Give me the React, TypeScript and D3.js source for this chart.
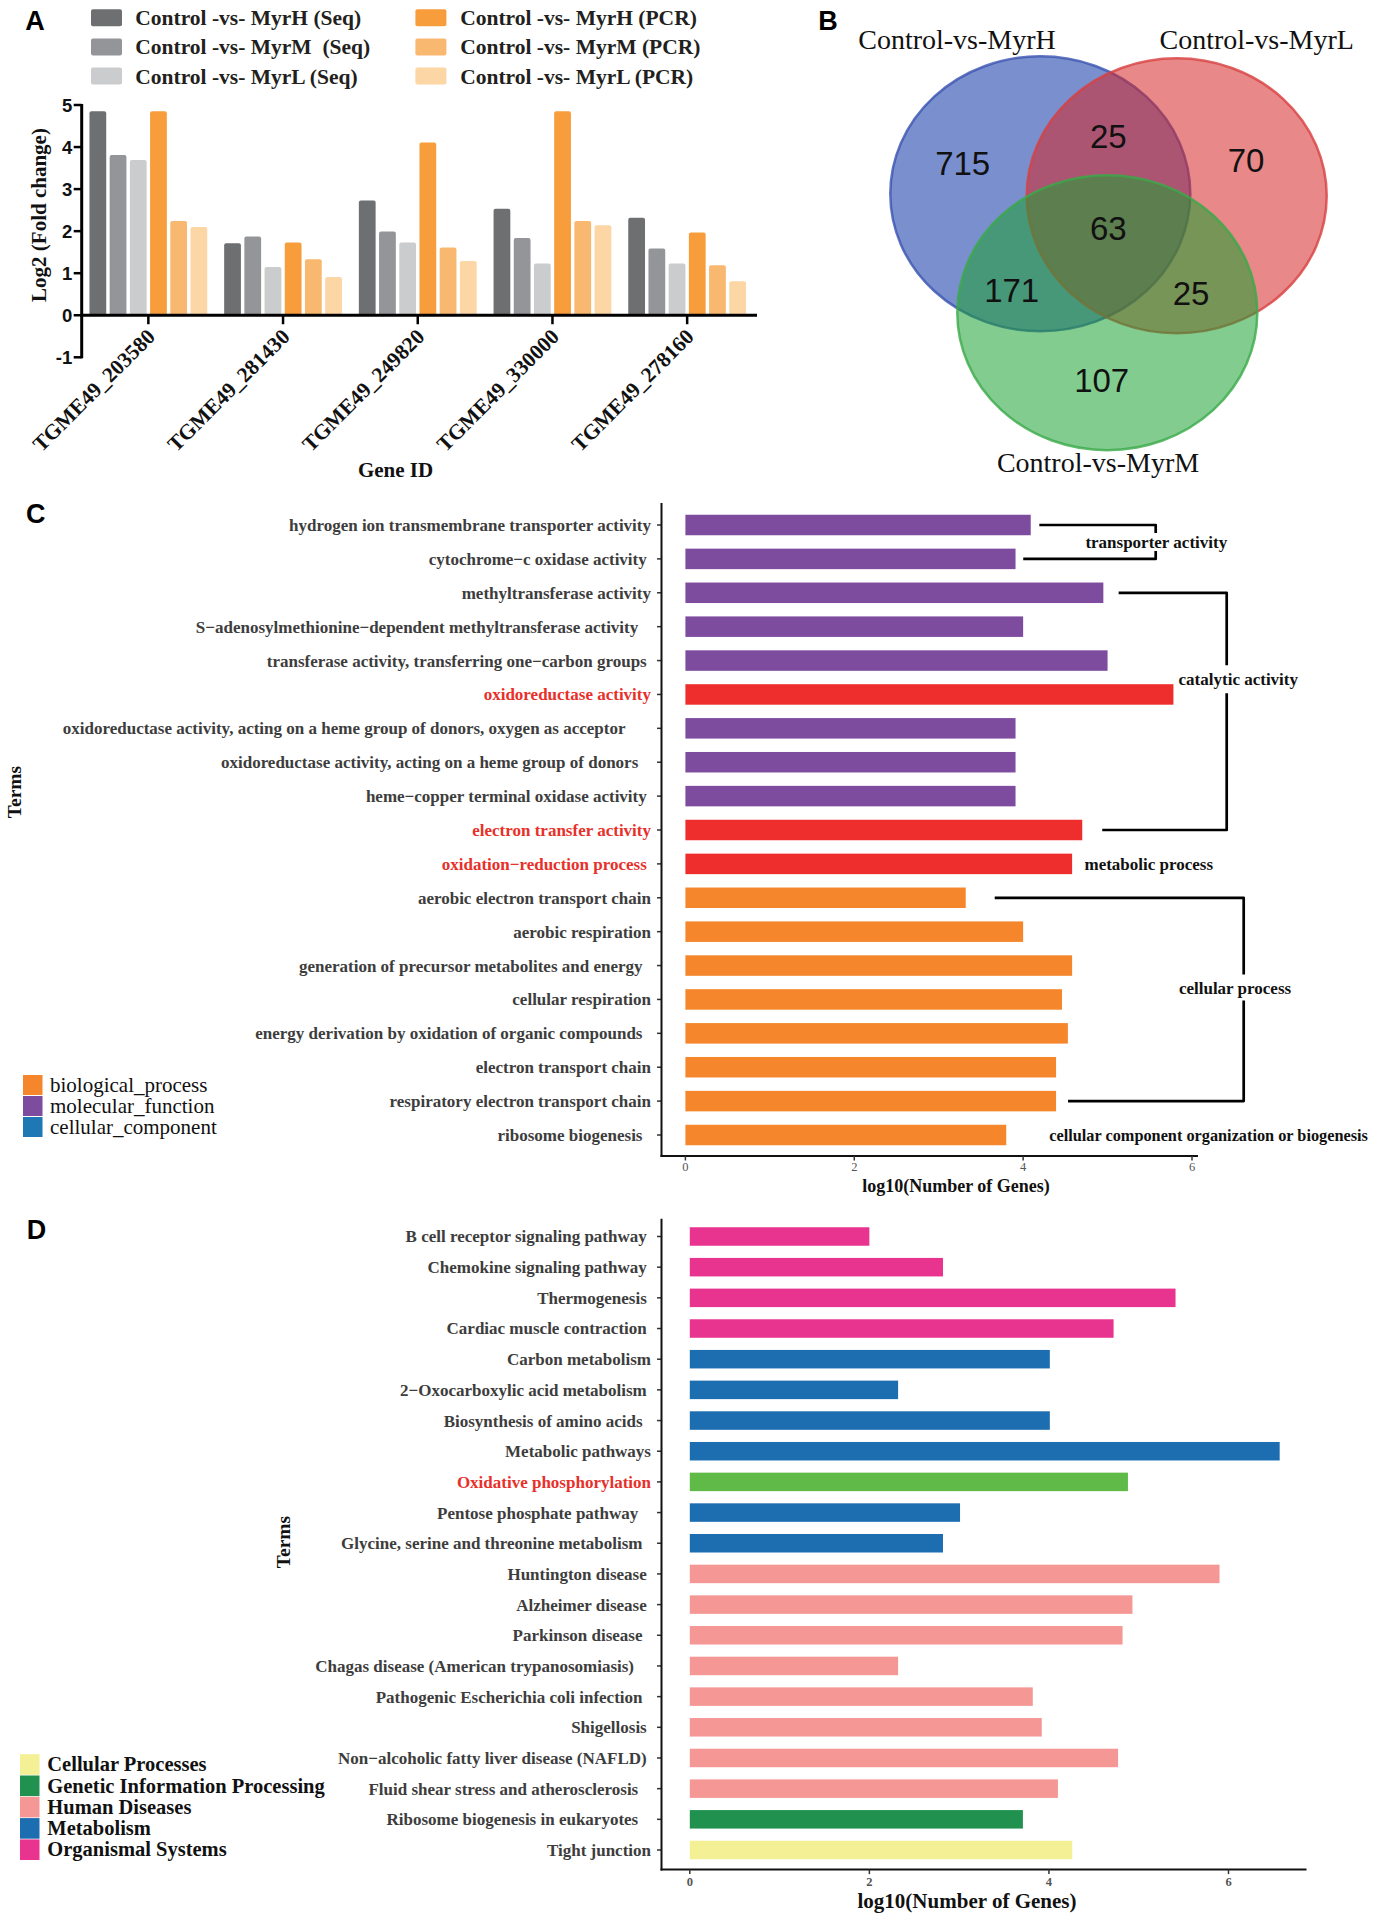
import React from 'react';
import * as d3 from 'd3';

const SERIF = '"Liberation Serif", "Times New Roman", serif';
const SANS = '"Liberation Sans", Arial, sans-serif';
const NB = '\u00A0';

// ---------------- Panel A data ----------------
const genes = ['TGME49_203580', 'TGME49_281430', 'TGME49_249820', 'TGME49_330000', 'TGME49_278160'];
const seriesNamesA = [
  'Control -vs- MyrH (Seq)',
  `Control -vs- MyrM ${NB}(Seq)`,
  'Control -vs- MyrL (Seq)',
  'Control -vs- MyrH (PCR)',
  'Control -vs- MyrM (PCR)',
  'Control -vs- MyrL (PCR)',
];
const seqMyrH = [4.85, 1.71, 2.73, 2.53, 2.32];
const seqMyrM = [3.81, 1.87, 1.99, 1.84, 1.59];
const seqMyrL = [3.69, 1.15, 1.73, 1.23, 1.23];
const pcrMyrH = [4.85, 1.73, 4.11, 4.85, 1.97];
const pcrMyrM = [2.24, 1.33, 1.61, 2.24, 1.19];
const pcrMyrL = [2.10, 0.91, 1.29, 2.14, 0.81];
const yTicksA = [-1, 0, 1, 2, 3, 4, 5];

// ---------------- Panel B data ----------------
const vennSetNames = ['Control-vs-MyrH', 'Control-vs-MyrL', 'Control-vs-MyrM'];
const vennRegionKeys = ['H', 'HL', 'L', 'HLM', 'HM', 'LM', 'M'];
const vennCounts = [715, 25, 70, 63, 171, 25, 107];

// ---------------- Panel C data ----------------
const goTerms = [
  'hydrogen ion transmembrane transporter activity',
  'cytochrome\u2212c oxidase activity' + NB,
  'methyltransferase activity',
  'S\u2212adenosylmethionine\u2212dependent methyltransferase activity' + NB + NB + NB,
  'transferase activity, transferring one\u2212carbon groups' + NB,
  'oxidoreductase activity',
  'oxidoreductase activity, acting on a heme group of donors, oxygen as acceptor' + NB.repeat(6),
  'oxidoreductase activity, acting on a heme group of donors' + NB + NB + NB,
  'heme\u2212copper terminal oxidase activity' + NB,
  'electron transfer activity',
  'oxidation\u2212reduction process' + NB,
  'aerobic electron transport chain',
  'aerobic respiration',
  'generation of precursor metabolites and energy' + NB + NB,
  'cellular respiration',
  'energy derivation by oxidation of organic compounds' + NB + NB,
  'electron transport chain',
  'respiratory electron transport chain',
  'ribosome biogenesis' + NB + NB,
];
const goValues = [4.09, 3.91, 4.95, 4.00, 5.00, 5.78, 3.91, 3.91, 3.91, 4.70, 4.58, 3.32, 4.00, 4.58, 4.46, 4.53, 4.39, 4.39, 3.80];
const goOntology = ['MF', 'MF', 'MF', 'MF', 'MF', 'MF', 'MF', 'MF', 'MF', 'MF', 'BP', 'BP', 'BP', 'BP', 'BP', 'BP', 'BP', 'BP', 'BP'];
const goHighlight = [false, false, false, false, false, true, false, false, false, true, true, false, false, false, false, false, false, false, false];
const goGroupNames = ['transporter activity', 'catalytic activity', 'metabolic process', 'cellular process', 'cellular component organization or biogenesis'];
const goGroupFrom = [0, 2, 10, 11, 18];
const goGroupTo = [1, 9, 10, 17, 18];
const goLegendNames = ['biological_process', 'molecular_function', 'cellular_component'];
const xTicksC = [0, 2, 4, 6];

// ---------------- Panel D data ----------------
const keggTerms = [
  'B cell receptor signaling pathway' + NB,
  'Chemokine signaling pathway' + NB,
  'Thermogenesis' + NB,
  'Cardiac muscle contraction' + NB,
  'Carbon metabolism',
  '2\u2212Oxocarboxylic acid metabolism' + NB,
  'Biosynthesis of amino acids' + NB + NB,
  'Metabolic pathways',
  'Oxidative phosphorylation',
  'Pentose phosphate pathway' + NB + NB + NB,
  'Glycine, serine and threonine metabolism' + NB + NB,
  'Huntington disease' + NB,
  'Alzheimer disease' + NB,
  'Parkinson disease' + NB + NB,
  'Chagas disease (American trypanosomiasis)' + NB.repeat(4),
  'Pathogenic Escherichia coli infection' + NB + NB,
  'Shigellosis' + NB,
  'Non\u2212alcoholic fatty liver disease (NAFLD)' + NB,
  'Fluid shear stress and atherosclerosis' + NB + NB + NB,
  'Ribosome biogenesis in eukaryotes' + NB + NB + NB,
  'Tight junction',
];
const keggValues = [2.00, 2.82, 5.41, 4.72, 4.01, 2.32, 4.01, 6.57, 4.88, 3.01, 2.82, 5.90, 4.93, 4.82, 2.32, 3.82, 3.92, 4.77, 4.10, 3.71, 4.26];
const keggClass = ['OS', 'OS', 'OS', 'OS', 'M', 'M', 'M', 'M', 'M', 'M', 'M', 'HD', 'HD', 'HD', 'HD', 'HD', 'HD', 'HD', 'HD', 'GIP', 'CP'];
const keggHighlight = [false, false, false, false, false, false, false, false, true, false, false, false, false, false, false, false, false, false, false, false, false];
const keggLegendKeys = ['CP', 'GIP', 'HD', 'M', 'OS'];
const keggLegendNames = ['Cellular Processes', 'Genetic Information Processing', 'Human Diseases', 'Metabolism', 'Organismal Systems'];
const xTicksD = [0, 2, 4, 6];

// ---------------- styles ----------------
const colorsA = ['#6d6f71', '#939598', '#cbcccd', '#f79d3c', '#f9b86f', '#fcd6a4'];
const goColors: Record<string, string> = { BP: '#f5862b', MF: '#7e4c9e', CC: '#1f78b4', HL: '#ee2d2d' };
const keggColors: Record<string, string> = { CP: '#f3f095', GIP: '#219150', HD: '#f49795', M: '#1d6db1', OS: '#e8338f', HL: '#5fba47' };
const LABEL_GRAY = '#3d3d3d';
const LABEL_RED = '#e8302a';

export default function App() {
  // ===== Panel A =====
  const seriesA = [seqMyrH, seqMyrM, seqMyrL, pcrMyrH, pcrMyrM, pcrMyrL];
  const xA = d3.scaleBand<string>().domain(genes).range([81, 754.5]).paddingInner(0.1).paddingOuter(0.05);
  const xAi = d3.scaleBand<number>().domain(d3.range(seriesA.length)).range([0, xA.bandwidth()]).paddingInner(0.17).paddingOuter(0.085);
  const yA = d3.scaleLinear().domain([-1, 5]).range([357.3, 105]);
  const axisXA = 81.7;

  // ===== Panel B =====
  const ell = [
    { cx: 1040.3, cy: 193.8, fill: '#0d33a6', op: 0.55, stroke: '#3a52b0' },
    { cx: 1176.7, cy: 195.8, fill: '#d52727', op: 0.55, stroke: '#d84040' },
    { cx: 1107.3, cy: 312.7, fill: '#19a030', op: 0.54, stroke: '#3aaa48' },
  ];
  const vennLabelPos: Record<string, [number, number]> = {
    H: [962.7, 163], HL: [1108.3, 136], L: [1246, 160], HLM: [1108.3, 228], HM: [1011.7, 290], LM: [1191, 293], M: [1101.7, 380],
  };
  const vennNamePos: [number, number][] = [[957, 49], [1256.7, 49], [1098, 472]];

  // ===== Panel C =====
  const xC = d3.scaleLinear().domain([0, 6]).range([685.4, 1192]);
  const yC = d3.scalePoint<number>().domain(d3.range(goTerms.length)).range([525, 1135]);
  const stepC = yC.step();
  const barHC = 20.5;
  const axisCX = 661.5, axisCTop = 503, axisCBottom = 1156, axisCRight = 1198;
  const bracketC: Record<string, any> = {
    'transporter activity': { vx: 1155.7, topGap: 8.6, botGap: 7.7, labelRow: 0.5, labelX: 1156.3, gap: 9 },
    'catalytic activity': { vx: 1226.7, topGap: 15.3, botGap: 20, labelRow: 4.55, labelX: 1238.3, gap: 14 },
    'metabolic process': { startGap: 12.4, size: 17 },
    'cellular process': { vx: 1243.7, topGap: 29, botGap: 12, labelRow: 13.65, labelX: 1235, gap: 13 },
    'cellular component organization or biogenesis': { startGap: 43, size: 16.3 },
  };

  // ===== Panel D =====
  const xD = d3.scaleLinear().domain([0, 6]).range([689.8, 1228.5]);
  const yD = d3.scalePoint<number>().domain(d3.range(keggTerms.length)).range([1236.5, 1850]);
  const barHD = 18.5;
  const axisDX = 661.5, axisDTop = 1218.7, axisDBottom = 1869.6, axisDRight = 1306.5;

  const labelEndX = 651;

  return (
    <svg width={1389} height={1914} viewBox="0 0 1389 1914" style={{ position: 'absolute', left: 0, top: 0, background: '#fff' }}>
      <rect x={0} y={0} width={1389} height={1914} fill="#fff" />

      {/* ================= Panel A ================= */}
      <text x={35} y={29.5} fontFamily={SANS} fontWeight="bold" fontSize={27} textAnchor="middle">A</text>
      {seriesNamesA.map((name, i) => {
        const col = i < 3 ? 0 : 1;
        const row = i % 3;
        const sx = col === 0 ? 91 : 415.4;
        const tx = col === 0 ? 135.3 : 460.2;
        const cy = 17.7 + row * 29.2;
        return (
          <g key={name}>
            <rect x={sx} y={cy - 8.5} width={31} height={17} rx={2} fill={colorsA[i]} />
            <text x={tx} y={cy} dy="0.35em" fontFamily={SERIF} fontWeight="bold" fontSize={21.5} fill="#231f20" style={{ whiteSpace: 'pre' }}>{name}</text>
          </g>
        );
      })}
      {genes.map((g, gi) => (
        <g key={g}>
          {seriesA.map((vals, si) => (
            <rect key={si} x={(xA(g) as number) + (xAi(si) as number)} y={yA(vals[gi])} width={xAi.bandwidth()} height={yA(0) - yA(vals[gi])} rx={2} fill={colorsA[si]} />
          ))}
        </g>
      ))}
      {/* axes A */}
      <line x1={axisXA} x2={axisXA} y1={yA(5) - 1} y2={yA(-1) + 1} stroke="#000" strokeWidth={3} />
      <line x1={axisXA - 1.5} x2={757} y1={yA(0)} y2={yA(0)} stroke="#000" strokeWidth={3} />
      {yTicksA.map(t => (
        <g key={t}>
          <line x1={axisXA - 8} x2={axisXA} y1={yA(t)} y2={yA(t)} stroke="#000" strokeWidth={2.5} />
          <text x={axisXA - 9.5} y={yA(t)} dy="0.36em" textAnchor="end" fontFamily={SANS} fontWeight="bold" fontSize={18.5} fill="#111">{t}</text>
        </g>
      ))}
      {genes.map(g => {
        const cx = (xA(g) as number) + xA.bandwidth() / 2;
        return (
          <g key={g}>
            <line x1={cx} x2={cx} y1={yA(0)} y2={yA(0) + 9} stroke="#000" strokeWidth={2.5} />
            <text transform={`translate(${cx + 8},338) rotate(-45)`} textAnchor="end" fontFamily={SERIF} fontWeight="bold" fontSize={21.5} fill="#111">{g}</text>
          </g>
        );
      })}
      <text x={395.5} y={470} dy="0.35em" textAnchor="middle" fontFamily={SERIF} fontWeight="bold" fontSize={21} fill="#111">Gene ID</text>
      <text transform={`translate(38.5,215) rotate(-90)`} dy="0.35em" textAnchor="middle" fontFamily={SERIF} fontWeight="bold" fontSize={21} fill="#111">Log2 (Fold change)</text>

      {/* ================= Panel B ================= */}
      <text x={828} y={29.5} fontFamily={SANS} fontWeight="bold" fontSize={27} textAnchor="middle">B</text>
      {ell.map((e, i) => (
        <ellipse key={i} cx={e.cx} cy={e.cy} rx={150} ry={137.5} fill={e.fill} fillOpacity={e.op} stroke={e.stroke} strokeOpacity={0.8} strokeWidth={2.5} />
      ))}
      {vennRegionKeys.map((k, i) => (
        <text key={k} x={vennLabelPos[k][0]} y={vennLabelPos[k][1]} dy="0.36em" textAnchor="middle" fontFamily={SANS} fontSize={33} fill="#111">{vennCounts[i]}</text>
      ))}
      {vennSetNames.map((n, i) => (
        <text key={n} x={vennNamePos[i][0]} y={vennNamePos[i][1]} textAnchor="middle" fontFamily={SERIF} fontSize={28} fill="#111">{n}</text>
      ))}

      {/* ================= Panel C ================= */}
      <text x={35.7} y={522.5} fontFamily={SANS} fontWeight="bold" fontSize={27} textAnchor="middle">C</text>
      {goTerms.map((t, i) => {
        const y = yC(i) as number;
        const col = goHighlight[i] ? goColors.HL : goColors[goOntology[i]];
        return (
          <g key={i}>
            <rect x={xC(0)} y={y - barHC / 2} width={xC(goValues[i]) - xC(0)} height={barHC} fill={col} />
            <line x1={axisCX - 4.5} x2={axisCX} y1={y} y2={y} stroke="#333" strokeWidth={1.5} />
            <text x={labelEndX} y={y} dy="0.35em" textAnchor="end" fontFamily={SERIF} fontWeight="bold" fontSize={17} fill={goHighlight[i] ? LABEL_RED : LABEL_GRAY} style={{ whiteSpace: 'pre' }}>{t}</text>
          </g>
        );
      })}
      <line x1={axisCX} x2={axisCX} y1={axisCTop} y2={axisCBottom + 1} stroke="#111" strokeWidth={2} />
      <line x1={axisCX - 1} x2={axisCRight} y1={axisCBottom} y2={axisCBottom} stroke="#111" strokeWidth={2} />
      {xTicksC.map(t => (
        <g key={t}>
          <line x1={xC(t)} x2={xC(t)} y1={axisCBottom} y2={axisCBottom + 4.5} stroke="#333" strokeWidth={1.5} />
          <text x={xC(t)} y={1167} dy="0.35em" textAnchor="middle" fontFamily={SERIF} fontSize={12.5} fill="#555">{t}</text>
        </g>
      ))}
      <text x={956} y={1186} dy="0.35em" textAnchor="middle" fontFamily={SERIF} fontWeight="bold" fontSize={18} fill="#111">log10(Number of Genes)</text>
      <text transform={`translate(14.5,792) rotate(-90)`} dy="0.35em" textAnchor="middle" fontFamily={SERIF} fontWeight="bold" fontSize={19.5} fill="#111">Terms</text>
      {goGroupNames.map((name, gi) => {
        const L = bracketC[name];
        const from = goGroupFrom[gi], to = goGroupTo[gi];
        const yTop = yC(from) as number, yBot = yC(to) as number;
        if (from === to) {
          return (
            <text key={name} x={xC(goValues[from]) + L.startGap} y={yTop} dy="0.35em" fontFamily={SERIF} fontWeight="bold" fontSize={L.size} fill="#111">{name}</text>
          );
        }
        const ly = (yC(0) as number) + L.labelRow * stepC;
        const x1 = xC(goValues[from]) + L.topGap;
        const x2 = xC(goValues[to]) + L.botGap;
        return (
          <g key={name}>
            <path d={`M${x1},${yTop}H${L.vx}V${ly - L.gap}`} fill="none" stroke="#000" strokeWidth={2.7} strokeLinejoin="round" />
            <path d={`M${L.vx},${ly + L.gap}V${yBot}H${x2}`} fill="none" stroke="#000" strokeWidth={2.7} strokeLinejoin="round" />
            <text x={L.labelX} y={ly} dy="0.35em" textAnchor="middle" fontFamily={SERIF} fontWeight="bold" fontSize={17} fill="#111">{name}</text>
          </g>
        );
      })}
      {goLegendNames.map((n, i) => {
        const key = ['BP', 'MF', 'CC'][i];
        const cy = 1085 + i * 21;
        return (
          <g key={n}>
            <rect x={23} y={cy - 10} width={19.5} height={20} fill={goColors[key]} />
            <text x={50} y={cy} dy="0.33em" fontFamily={SERIF} fontSize={21} fill="#111">{n}</text>
          </g>
        );
      })}

      {/* ================= Panel D ================= */}
      <text x={36.6} y={1238.5} fontFamily={SANS} fontWeight="bold" fontSize={27} textAnchor="middle">D</text>
      {keggTerms.map((t, i) => {
        const y = yD(i) as number;
        const col = keggHighlight[i] ? keggColors.HL : keggColors[keggClass[i]];
        return (
          <g key={i}>
            <rect x={xD(0)} y={y - barHD / 2} width={xD(keggValues[i]) - xD(0)} height={barHD} fill={col} />
            <line x1={axisDX - 4.5} x2={axisDX} y1={y} y2={y} stroke="#333" strokeWidth={1.5} />
            <text x={labelEndX} y={y} dy="0.35em" textAnchor="end" fontFamily={SERIF} fontWeight="bold" fontSize={17} fill={keggHighlight[i] ? LABEL_RED : LABEL_GRAY} style={{ whiteSpace: 'pre' }}>{t}</text>
          </g>
        );
      })}
      <line x1={axisDX} x2={axisDX} y1={axisDTop} y2={axisDBottom + 1} stroke="#111" strokeWidth={2} />
      <line x1={axisDX - 1} x2={axisDRight} y1={axisDBottom} y2={axisDBottom} stroke="#111" strokeWidth={2} />
      {xTicksD.map(t => (
        <g key={t}>
          <line x1={xD(t)} x2={xD(t)} y1={axisDBottom} y2={axisDBottom + 4.5} stroke="#333" strokeWidth={1.5} />
          <text x={xD(t)} y={1882} dy="0.35em" textAnchor="middle" fontFamily={SERIF} fontWeight="bold" fontSize={12.5} fill="#555">{t}</text>
        </g>
      ))}
      <text x={967} y={1901} dy="0.35em" textAnchor="middle" fontFamily={SERIF} fontWeight="bold" fontSize={21} fill="#111">log10(Number of Genes)</text>
      <text transform={`translate(283.5,1542) rotate(-90)`} dy="0.35em" textAnchor="middle" fontFamily={SERIF} fontWeight="bold" fontSize={19.5} fill="#111">Terms</text>
      {keggLegendNames.map((n, i) => {
        const cy = 1764.5 + i * 21.3;
        return (
          <g key={n}>
            <rect x={20} y={cy - 10.3} width={19.5} height={20.6} fill={keggColors[keggLegendKeys[i]]} />
            <text x={47.3} y={cy} dy="0.33em" fontFamily={SERIF} fontWeight="bold" fontSize={20.5} fill="#111">{n}</text>
          </g>
        );
      })}
    </svg>
  );
}
